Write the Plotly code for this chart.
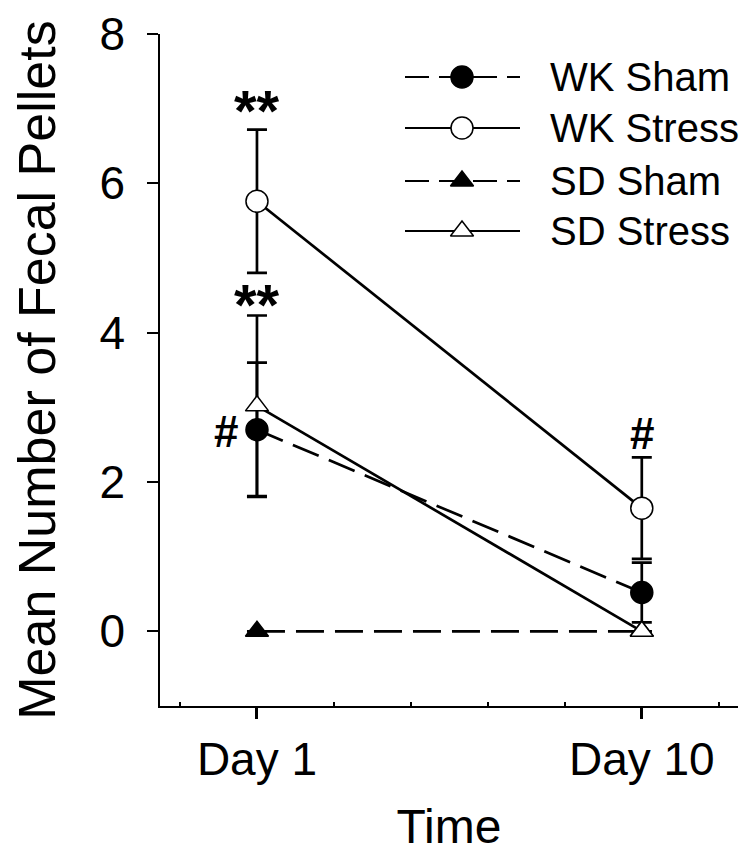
import plotly.graph_objects as go

# ---- data ----
day_pos = [1, 6]
day_labels = ["Day 1", "Day 10"]
minor_pos = [0, 2, 3, 4, 5, 7]
y_ticks = [0, 2, 4, 6, 8]

wk_sham = [2.70, 0.52]
wk_sham_err = [0.90, 0.40]
wk_stress = [5.76, 1.65]
wk_stress_err = [0.96, 0.68]
sd_sham = [0.0, 0.0]
sd_sham_err = [0.0, 0.0]
sd_stress = [3.02, 0.0]
sd_stress_err = [1.21, 0.0]

series_names = ["WK Sham", "WK Stress", "SD Sham", "SD Stress"]

# significance marks: (x, y, text)
sig_x = [1, 1, 0.60, 6]
sig_y = [6.98, 4.38, 2.67, 2.65]
sig_text = ["**", "**", "#", "#"]

FONT = "Liberation Sans, Arial, sans-serif"
BLACK = "#000000"

styles = [
    dict(symbol="circle", fill=BLACK, dash="28px,11px", size=22),
    dict(symbol="circle", fill="white", dash="solid", size=22),
    dict(symbol="triangle-up", fill=BLACK, dash="28px,11px", size=20),
    dict(symbol="triangle-up", fill="white", dash="solid", size=20),
]
values = [wk_sham, wk_stress, sd_sham, sd_stress]
errors = [wk_sham_err, wk_stress_err, sd_sham_err, sd_stress_err]

fig = go.Figure()
for name, v, e, s in zip(series_names, values, errors, styles):
    fig.add_trace(go.Scatter(
        x=day_pos, y=v, mode="lines+markers", name=name,
        line=dict(color=BLACK, width=2.7, dash=s["dash"]),
        marker=dict(symbol=s["symbol"], size=s["size"], color=s["fill"],
                    line=dict(color=BLACK, width=1.5)),
        error_y=dict(type="data", array=e, visible=True, color=BLACK,
                     thickness=2.7, width=10),
        showlegend=False, cliponaxis=False,
    ))

# ---- custom legend on an overlay axis spanning the plot area ----
leg_rows_y = [77, 128, 181, 231]
leg_x0, leg_x1, leg_mid = 405, 520, 462
for name, s, ry in zip(series_names, styles, leg_rows_y):
    fig.add_trace(go.Scatter(
        x=[leg_x0, leg_x1], y=[ry, ry], mode="lines", xaxis="x2", yaxis="y2",
        line=dict(color=BLACK, width=2.2, dash="24px,10px" if s["dash"] != "solid" else "solid"),
        showlegend=False, hoverinfo="skip"))
    fig.add_trace(go.Scatter(
        x=[leg_mid], y=[ry], mode="markers", xaxis="x2", yaxis="y2",
        marker=dict(symbol=s["symbol"], size=s["size"], color=s["fill"],
                    line=dict(color=BLACK, width=1.5)),
        showlegend=False, hoverinfo="skip"))
    fig.add_annotation(x=548, y=ry, xref="x2", yref="y2", text=name,
                       showarrow=False, xanchor="left", yanchor="middle",
                       font=dict(family=FONT, size=40, color=BLACK))

for sx, sy, st in zip(sig_x, sig_y, sig_text):
    fig.add_annotation(x=sx, y=sy, text="<b>%s</b>" % st, showarrow=False,
                       xanchor="center", yanchor="middle",
                       font=dict(family=FONT, size=58 if st == "**" else 44, color=BLACK))

fig.update_layout(
    width=744, height=845,
    margin=dict(l=152, r=14, t=26, b=147),
    paper_bgcolor="white", plot_bgcolor="white",
    font=dict(family=FONT, color=BLACK),
    xaxis=dict(
        range=[-0.26, 7.25], tickvals=day_pos, ticktext=day_labels,
        ticks="outside", ticklen=11, tickwidth=3, tickcolor=BLACK,
        showline=True, linecolor=BLACK, linewidth=2, showgrid=False, zeroline=False,
        tickfont=dict(family=FONT, size=46, color=BLACK), ticklabelstandoff=1,
        minor=dict(tickvals=minor_pos, ticks="inside", ticklen=4, tickwidth=1.5,
                   tickcolor=BLACK, showgrid=False),
        title=dict(text="Time", font=dict(family=FONT, size=48, color=BLACK), standoff=36),
        automargin=False, fixedrange=True,
    ),
    yaxis=dict(
        range=[-1, 8], tickvals=y_ticks,
        ticks="outside", ticklen=11, tickwidth=1.5, tickcolor=BLACK,
        showline=True, linecolor=BLACK, linewidth=1.5, showgrid=False, zeroline=False,
        tickfont=dict(family=FONT, size=46, color=BLACK), ticklabelstandoff=13,
        title=dict(text="Mean Number of Fecal Pellets",
                   font=dict(family=FONT, size=52, color=BLACK), standoff=44),
        automargin=False, fixedrange=True,
    ),
    xaxis2=dict(domain=[0, 1], range=[160, 738], overlaying="x", visible=False,
                anchor="y2", fixedrange=True),
    yaxis2=dict(domain=[0, 1], range=[706, 34], overlaying="y", visible=False,
                anchor="x2", fixedrange=True),
)

fig.write_html("out.html")
